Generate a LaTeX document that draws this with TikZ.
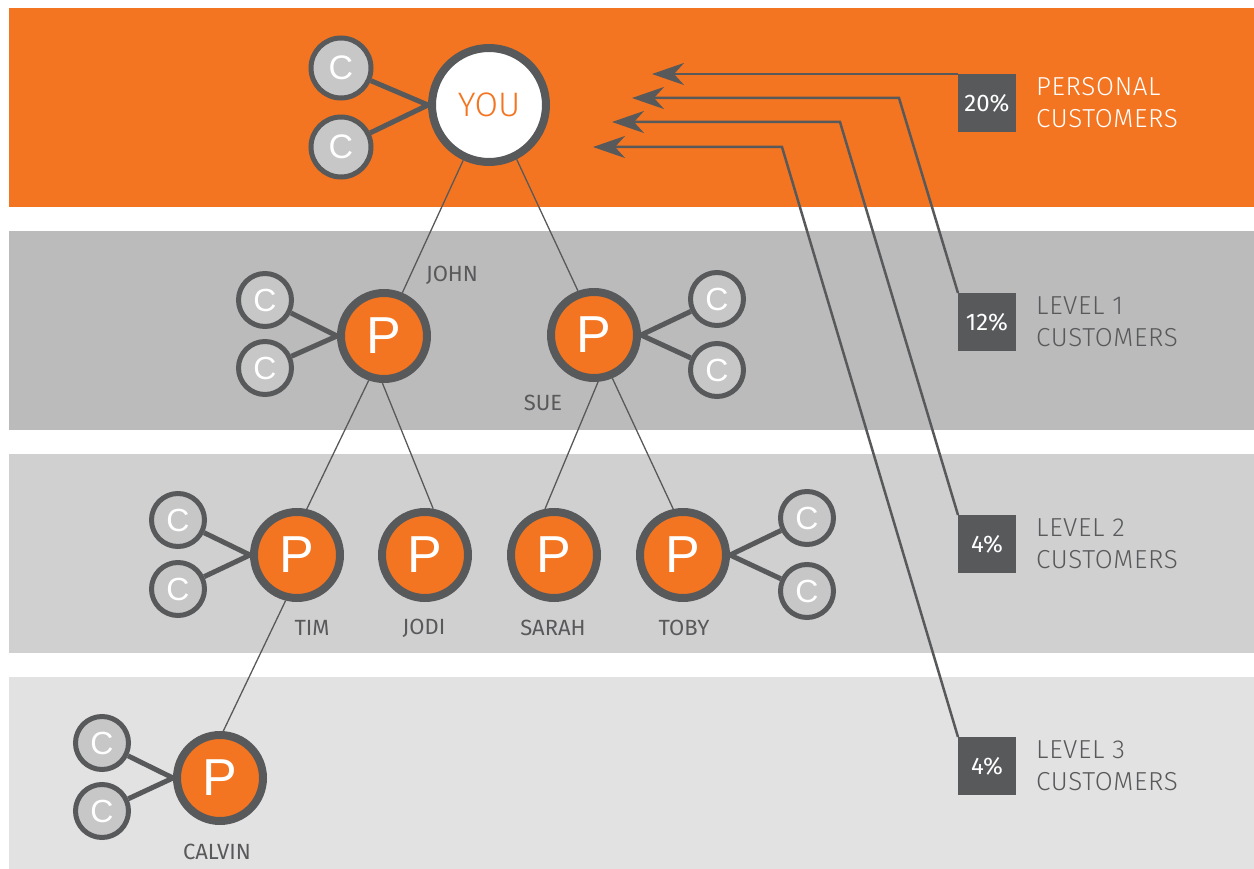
\documentclass[tikz,border=0pt]{standalone}
\usepackage{fontspec}
\setmainfont{Fira Sans}
\newfontfamily\lightfont[LetterSpace=2.5]{Fira Sans Light}
\newfontfamily\youfont{Fira Sans Light}
\newfontfamily\circfont{Liberation Sans}
\usetikzlibrary{arrows.meta}

\definecolor{orng}{HTML}{F47521}
\definecolor{dgray}{HTML}{58595B}
\definecolor{cgray}{HTML}{C8C7C8}
\definecolor{bandA}{HTML}{BCBBBC}
\definecolor{bandB}{HTML}{D1D0D1}
\definecolor{bandC}{HTML}{E3E2E3}

\tikzset{
  you/.style={circle, draw=dgray, line width=8pt, fill=white, minimum size=114pt, inner sep=0pt, text=orng, font=\youfont\fontsize{34}{34}\selectfont},
  pnode/.style={circle, draw=dgray, line width=8pt, fill=orng, minimum size=86pt, inner sep=0pt, text=white, font=\circfont\fontsize{52}{52}\selectfont},
  cnode/.style={circle, draw=dgray, line width=5pt, fill=cgray, minimum size=53pt, inner sep=0pt, text=white, font=\circfont\fontsize{32}{32}\selectfont},
  bigc/.style={cnode, minimum size=60pt, font=\circfont\fontsize{34}{34}\selectfont},
  who/.style={text=dgray, inner sep=0pt, font=\fontsize{22}{22}\selectfont},
  pct/.style={fill=dgray, minimum size=58pt, inner sep=0pt, outer sep=0pt, text=white, font=\fontsize{24}{24}\selectfont},
  rank/.style={anchor=west, align=left, inner sep=0pt, font=\lightfont\fontsize{26}{32}\selectfont},
  tree/.style={dgray, line width=1.3pt},
  leg/.style={dgray, line width=5pt},
  ptr/.style={dgray, line width=2.5pt, -{Stealth[length=32pt, width=22pt, inset=10pt]}}
}

\begin{document}
\begin{tikzpicture}[x=1pt, y=-1pt]
            \useasboundingbox ( 0, 0 ) rectangle ( 1254, 869 );

            % полосы
            \fill [orng] ( 9, 8 ) rectangle ( 1254, 207 );
            \fill [bandA] ( 9, 231 ) rectangle ( 1254, 430 );
            \fill [bandB] ( 9, 454 ) rectangle ( 1254, 653 );
            \fill [bandC] ( 9, 677 ) rectangle ( 1254, 869 );

            % узлы
            \node [you] (you) at ( 489, 105 ) {YOU};
            \node [bigc] (c1) at ( 341, 68 ) {C};
            \node [bigc] (c2) at ( 341, 147 ) {C};
            \node [pnode] (john) at ( 384, 336 ) {P};
            \node [cnode] (c3) at ( 265, 300 ) {C};
            \node [cnode] (c4) at ( 265, 368 ) {C};
            \node [pnode] (sue) at ( 594, 335 ) {P};
            \node [cnode] (c5) at ( 717, 299 ) {C};
            \node [cnode] (c6) at ( 717, 370 ) {C};
            \node [pnode] (tim) at ( 297, 555 ) {P};
            \node [cnode] (c7) at ( 178, 520 ) {C};
            \node [cnode] (c8) at ( 178, 589 ) {C};
            \node [pnode] (jodi) at ( 425, 555 ) {P};
            \node [pnode] (sarah) at ( 554, 555 ) {P};
            \node [pnode] (toby) at ( 683, 555 ) {P};
            \node [cnode] (c9) at ( 807, 518 ) {C};
            \node [cnode] (c10) at ( 807, 591 ) {C};
            \node [pnode] (calvin) at ( 220, 778 ) {P};
            \node [cnode] (c11) at ( 102, 743 ) {C};
            \node [cnode] (c12) at ( 102, 811 ) {C};

            % клиенты
            \draw [leg] (c1) -- (you.west);
            \draw [leg] (c2) -- (you.west);
            \draw [leg] (c3) -- (john.west);
            \draw [leg] (c4) -- (john.west);
            \draw [leg] (c5) -- (sue.east);
            \draw [leg] (c6) -- (sue.east);
            \draw [leg] (c7) -- (tim.west);
            \draw [leg] (c8) -- (tim.west);
            \draw [leg] (c9) -- (toby.east);
            \draw [leg] (c10) -- (toby.east);
            \draw [leg] (c11) -- (calvin.west);
            \draw [leg] (c12) -- (calvin.west);

            % дерево
            \draw [tree] (you.-115) -- (john.67);
            \draw [tree] (you.-63) -- (sue.110);
            \draw [tree] (john.-109) -- (tim.78);
            \draw [tree] (john.-92) -- (jodi.80);
            \draw [tree] (sue.-85) -- (sarah.101);
            \draw [tree] (sue.-67) -- (toby.102);
            \draw [tree] (tim.-104) -- (calvin.86);

            % имена
            \node [who] (njohn) at ( 452, 275 ) {JOHN};
            \node [who] (nsue) at ( 543, 403 ) {SUE};
            \node [who] (ntim) at ( 312, 628 ) {TIM};
            \node [who] (njodi) at ( 424, 628 ) {JODI};
            \node [who] (nsarah) at ( 553, 628 ) {SARAH};
            \node [who] (ntoby) at ( 684, 628 ) {TOBY};
            \node [who] (ncalvin) at ( 217, 852 ) {CALVIN};

            % проценты
            \node [pct] (p20) at ( 987, 103 ) {20\%};
            \node [rank, text=white] (lab0) at ( 1036, 103 ) {PERSONAL\\CUSTOMERS};
            \node [pct] (p12) at ( 987, 322 ) {12\%};
            \node [rank, text=dgray] (lab1) at ( 1036, 322 ) {LEVEL 1\\CUSTOMERS};
            \node [pct] (p4a) at ( 987, 544 ) {4\%};
            \node [rank, text=dgray] (lab2) at ( 1036, 544 ) {LEVEL 2\\CUSTOMERS};
            \node [pct] (p4b) at ( 987, 766 ) {4\%};
            \node [rank, text=dgray] (lab3) at ( 1036, 766 ) {LEVEL 3\\CUSTOMERS};

            % стрелки
            \coordinate (tip1) at ( 652, 74 );
            \coordinate (bend2) at ( 899, 98 );
            \coordinate (tip2) at ( 632, 98 );
            \coordinate (bend3) at ( 840, 122 );
            \coordinate (tip3) at ( 612, 122 );
            \coordinate (bend4) at ( 782, 147 );
            \coordinate (tip4) at ( 593, 147 );
            \draw [ptr] (p20.north west) -- (tip1);
            \draw [ptr] (p12.north west) -- (bend2) -- (tip2);
            \draw [ptr] (p4a.north west) -- (bend3) -- (tip3);
            \draw [ptr] (p4b.north west) -- (bend4) -- (tip4);
        \end{tikzpicture}
\end{document}
